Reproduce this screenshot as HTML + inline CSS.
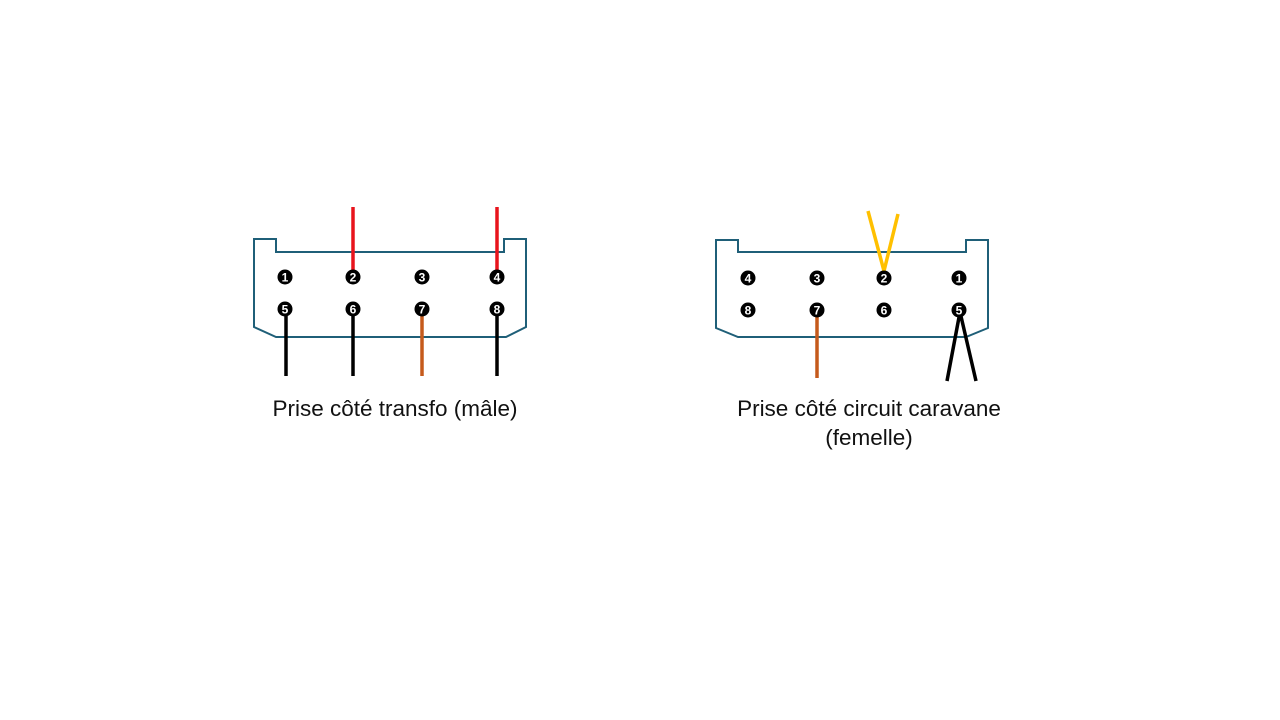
<!DOCTYPE html>
<html><head><meta charset="utf-8"><style>
html,body{margin:0;padding:0;background:#fff;width:1280px;height:720px;overflow:hidden}
svg text{font-family:"Liberation Sans",sans-serif}
</style></head><body>
<svg width="1280" height="720" viewBox="0 0 1280 720" xmlns="http://www.w3.org/2000/svg">
<g fill="none" stroke="#1f5f78" stroke-width="2">
<path d="M254,239 L276,239 L276,252 L504,252 L504,239 L526,239 L526,327 L506,337 L276,337 L254,327 Z"/>
<path d="M716,240 L738,240 L738,252 L966,252 L966,240 L988,240 L988,328 L966,337 L738,337 L716,328 Z"/>
</g>
<g stroke-width="3.5" fill="none">
<line x1="353" y1="207" x2="353" y2="270" stroke="#e8141c"/>
<line x1="497" y1="207" x2="497" y2="270" stroke="#e8141c"/>
<line x1="286" y1="309" x2="286" y2="376" stroke="#000"/>
<line x1="353" y1="309" x2="353" y2="376" stroke="#000"/>
<line x1="422" y1="309" x2="422" y2="376" stroke="#c55a1c"/>
<line x1="497" y1="309" x2="497" y2="376" stroke="#000"/>
<polyline points="868,211 884,271 898,214" stroke="#ffc000"/>
<line x1="817" y1="310" x2="817" y2="378" stroke="#c55a1c"/>
<polyline points="947,381 960,312 976,381" stroke="#000"/>
</g>
<g font-size="12" font-weight="bold" text-anchor="middle">
<g fill="#000">
<circle cx="285" cy="277" r="7.5"/><circle cx="353" cy="277" r="7.5"/><circle cx="422" cy="277" r="7.5"/><circle cx="497" cy="277" r="7.5"/>
<circle cx="285" cy="309" r="7.5"/><circle cx="353" cy="309" r="7.5"/><circle cx="422" cy="309" r="7.5"/><circle cx="497" cy="309" r="7.5"/>
<circle cx="748" cy="278" r="7.5"/><circle cx="817" cy="278" r="7.5"/><circle cx="884" cy="278" r="7.5"/><circle cx="959" cy="278" r="7.5"/>
<circle cx="748" cy="310" r="7.5"/><circle cx="817" cy="310" r="7.5"/><circle cx="884" cy="310" r="7.5"/><circle cx="959" cy="310" r="7.5"/>
</g>
<g fill="#fff">
<text x="285" y="281.5">1</text><text x="353" y="281.5">2</text><text x="422" y="281.5">3</text><text x="497" y="281.5">4</text>
<text x="285" y="313.5">5</text><text x="353" y="313.5">6</text><text x="422" y="313.5">7</text><text x="497" y="313.5">8</text>
<text x="748" y="282.5">4</text><text x="817" y="282.5">3</text><text x="884" y="282.5">2</text><text x="959" y="282.5">1</text>
<text x="748" y="314.5">8</text><text x="817" y="314.5">7</text><text x="884" y="314.5">6</text><text x="959" y="314.5">5</text>
</g>
</g>
<g font-size="22.5" fill="#111" text-anchor="middle">
<text x="395" y="416">Prise côté transfo (mâle)</text>
<text x="869" y="416">Prise côté circuit caravane</text>
<text x="869" y="445">(femelle)</text>
</g>
</svg>
</body></html>
